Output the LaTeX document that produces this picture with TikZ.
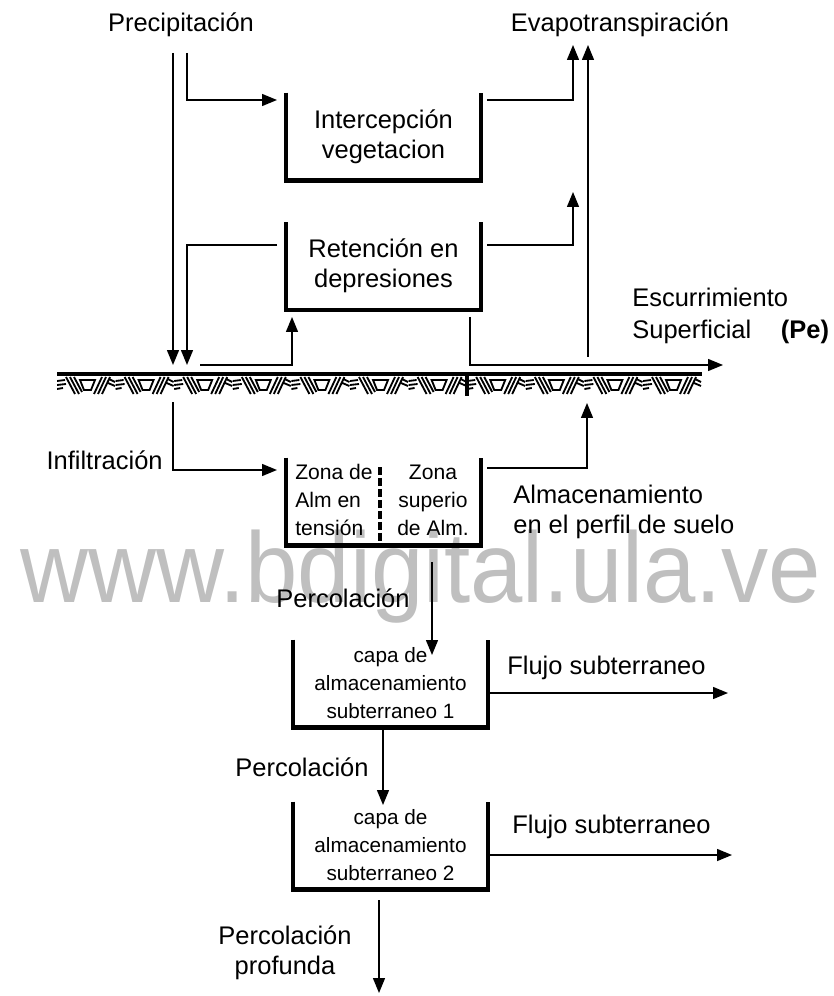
\documentclass[tikz,border=0pt]{standalone}
\usepackage{fontspec}
\setmainfont{Liberation Sans}
\usetikzlibrary{arrows.meta,calc}

\tikzset{
	flow/.style={line width=0.8pt,-{Triangle[length=0.3cm,width=0.24cm]}},
	wall/.style={line width=2.6pt,line join=miter},
	hatch/.style={line width=1.05pt},
	tank/.style={minimum width=3.88cm,minimum height=1.74cm,inner sep=0pt,align=center,font=\fontsize{14.5}{17}\selectfont},
	lbl/.style={inner sep=0pt,align=center,font=\fontsize{14.5}{17}\selectfont},
	smalltxt/.style={font=\fontsize{11.8}{15.9}\selectfont},
	zonatxt/.style={inner sep=0pt,align=center,font=\fontsize{12}{15.9}\selectfont},
	wmark/.style={inner sep=0pt,text=black!25,font=\fontsize{57}{60}\selectfont}
}

\begin{document}
\begin{tikzpicture}[x=0.02cm,y=-0.02cm]% pixel units, y runs downwards
	\useasboundingbox (0,0) rectangle (833,996);
	\node[wmark,anchor=base] (wm) at (421,602) {\scalebox{0.94}[1]{www.bdigital.ula.ve}};
	
	% labels
	\node[lbl] (prec) at (181,25) {Precipitación};
	\node[lbl] (evap) at (620,25) {Evapotranspiración};
	\node[lbl,align=left,anchor=west,font=\fontsize{14.5}{18}\selectfont] (escu) at (632,316) {Escurrimiento\\Superficial};
	\node[lbl,font=\fontsize{14.5}{17}\selectfont\bfseries] (pe) at (805,332) {(Pe)};
	\node[lbl,anchor=east] (infi) at (163,460) {Infiltración};
	\node[lbl,align=left,anchor=west] (alma) at (513,512) {Almacenamiento\\en el perfil de suelo};
	\node[lbl] (perc1) at (343,598) {Percolación};
	\node[lbl,anchor=west] (flu1) at (507,668) {Flujo subterraneo};
	\node[lbl] (perc2) at (302,767) {Percolación};
	\node[lbl,anchor=west] (flu2) at (512,827) {Flujo subterraneo};
	\node[lbl] (prof) at (285,953) {Percolación\\profunda};
	
	% storage tanks
	\node[tank] (icp) at (383.5,136.5) {Intercepción\\vegetacion};
	\node[tank] (ret) at (383.5,266) {Retención en\\depresiones};
	\node[tank] (zona) at (383.5,501.5) {};
	\node[tank,smalltxt] (sub1) at (390.5,683.5) {capa de\\almacenamiento\\subterraneo 1};
	\node[tank,smalltxt] (sub2) at (390.5,845.5) {capa de\\almacenamiento\\subterraneo 2};
	\foreach \t in {icp,ret,zona,sub1,sub2}{% open top
		\draw[wall] (\t.north west) |- (\t.south east) -- (\t.north east);
	}
	\node[zonatxt,align=left,anchor=west] (zl) at (295,500) {Zona de\\Alm en\\tensión};
	\node[zonatxt] (zr) at (433,500) {Zona\\superio\\de Alm.};
	\coordinate (zdiv) at (380,467);
	\draw[line width=1.8pt,dash pattern=on 0.16cm off 0.06cm] (zdiv) -- (zdiv |- zona.south);
	
	% ground surface
	\coordinate (gl) at (57,374);
	\coordinate (gr) at (702,374);
	\begin{scope}
		\clip (57,374) rectangle (702,397);
		\foreach \i in {0,...,10}{% one motif per step
			\begin{scope}[shift={(57+58.6*\i,374)}]
				\draw[hatch] (0,7) -- (8,6) (0,11) -- (9,10) (0,15) -- (6,14)
				(9,3) -- (18,20) (13,3) -- (22,20) (17,3) -- (25,18)
				(23,6) -- (38,6) -- (34,16) -- (27,16) -- cycle
				(37,20) -- (45,3) (41,20) -- (49,3) (45,20) -- (53,3)
				(52,5) -- (58,8) (51,9) -- (58,12);
			\end{scope}
		}
	\end{scope}
	\draw[line width=2pt] (gl) -- (gr);
	\draw[line width=2.2pt] (467,375) -- (467,396);
	
	% connector ends
	\coordinate (p1) at (173,53);
	\coordinate (p2) at (187,53);
	\coordinate (g1) at (173,365);
	\coordinate (g2) at (187,365);
	\coordinate (icpin) at (277,100);
	\coordinate (retout) at (277,245);
	\coordinate (gup) at (200,365);
	\coordinate (retin) at (292,317);
	\coordinate (icpout) at (487,100);
	\coordinate (retout2) at (487,245);
	\coordinate (evin1) at (573,45);
	\coordinate (evin2) at (573,192);
	\coordinate (escup) at (588,357);
	\coordinate (evin3) at (588,45);
	\coordinate (retdown) at (470,317);
	\coordinate (escend) at (723,365);
	\coordinate (infstart) at (173,402);
	\coordinate (zonain) at (277,470);
	\coordinate (zonaout) at (487,468);
	\coordinate (gin) at (587,403);
	\coordinate (zonadown) at (432,562);
	\coordinate (sub1in) at (432,655);
	\coordinate (sub1out) at (490,693);
	\coordinate (flu1end) at (728,693);
	\coordinate (sub1down) at (383,727);
	\coordinate (sub2in) at (383,805);
	\coordinate (sub2out) at (490,855);
	\coordinate (flu2end) at (732,855);
	\coordinate (sub2down) at (379,900);
	\coordinate (deepend) at (379,993);
	
	% flows
	\draw[flow] (p1) -- (g1);
	\draw[flow] (p2) |- (icpin);
	\draw[flow] (retout) -| (g2);
	\draw[flow] (gup) -| (retin);
	\draw[flow] (icpout) -| (evin1);
	\draw[flow] (retout2) -| (evin2);
	\draw[flow] (escup) -- (evin3);
	\draw[flow] (retdown) |- (escend);
	\draw[flow] (infstart) |- (zonain);
	\draw[flow] (zonaout) -| (gin);
	\draw[flow] (zonadown) -- (sub1in);
	\draw[flow] (sub1out) -- (flu1end);
	\draw[flow] (sub1down) -- (sub2in);
	\draw[flow] (sub2out) -- (flu2end);
	\draw[flow] (sub2down) -- (deepend);
\end{tikzpicture}
\end{document}
